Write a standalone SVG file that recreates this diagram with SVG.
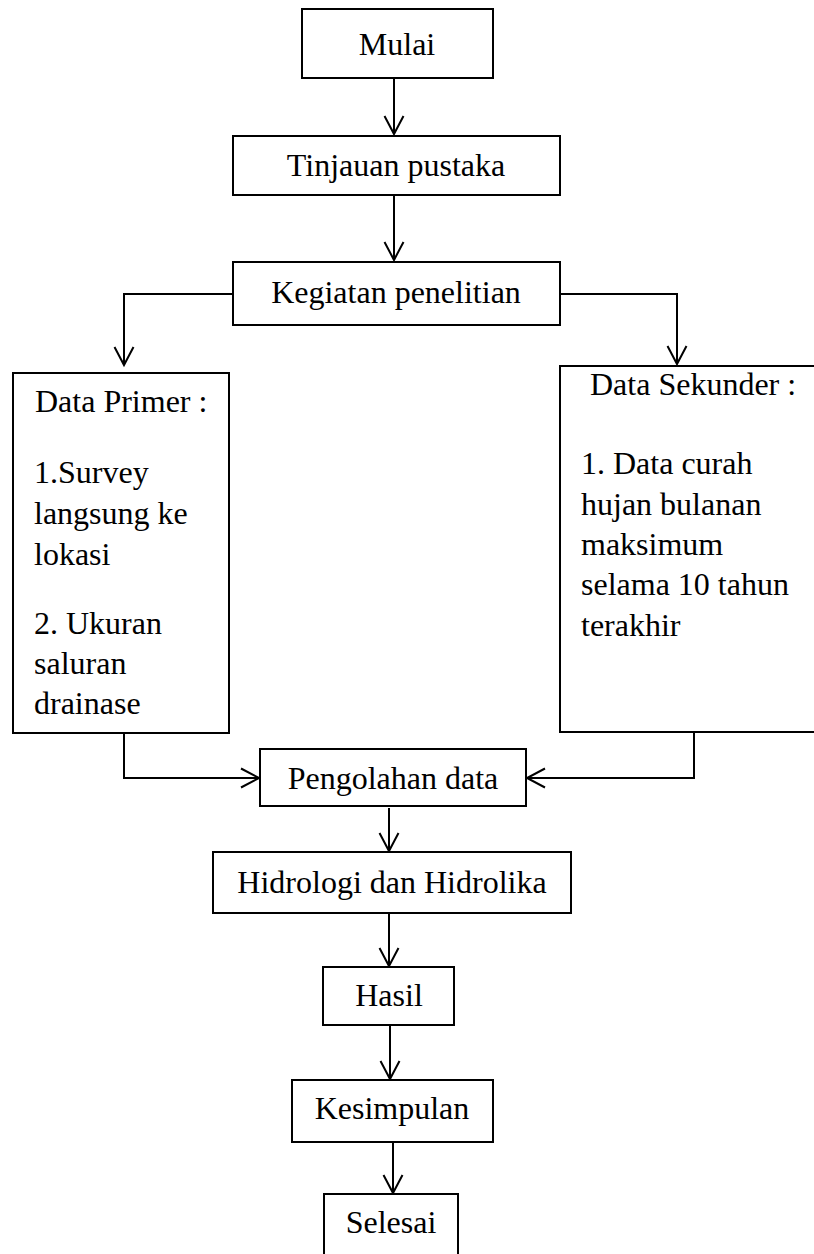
<svg xmlns="http://www.w3.org/2000/svg" width="814" height="1254" viewBox="0 0 814 1254">
<style>
rect.box{fill:#fff;stroke:#000;stroke-width:2}
text{font-family:"Liberation Serif","Times New Roman",serif;font-size:32px;fill:#000}
text.c{text-anchor:middle}
.conn path{fill:none;stroke:#000;stroke-width:2}
</style>
<defs>
<marker id="arr" markerUnits="userSpaceOnUse" markerWidth="24" markerHeight="24" viewBox="-20 -12 24 24" refX="0" refY="0" orient="auto">
<path d="M-18,-9.5 L0,0 L-18,9.5" fill="none" stroke="#000" stroke-width="2"/>
</marker>
</defs>
<rect width="814" height="1254" fill="#fff"/>
<g class="conn">
<path d="M394,78 V134" marker-end="url(#arr)"/>
<path d="M394,195 V260" marker-end="url(#arr)"/>
<path d="M233,294 H124 V365" marker-end="url(#arr)"/>
<path d="M560,294 H677 V364" marker-end="url(#arr)"/>
<path d="M124,733 V778 H259" marker-end="url(#arr)"/>
<path d="M694,732 V778 H527" marker-end="url(#arr)"/>
<path d="M389,808 V851" marker-end="url(#arr)"/>
<path d="M389,913 V966" marker-end="url(#arr)"/>
<path d="M390,1025 V1079" marker-end="url(#arr)"/>
<path d="M393,1142 V1193" marker-end="url(#arr)"/>
</g>
<g id="mulai"><rect class="box" x="302" y="9" width="191" height="69"/><text class="c" x="397" y="55">Mulai</text></g>
<g id="tinjauan"><rect class="box" x="233" y="136" width="327" height="59"/><text class="c" x="396" y="176">Tinjauan pustaka</text></g>
<g id="kegiatan"><rect class="box" x="233" y="262" width="327" height="63"/><text class="c" x="396" y="303">Kegiatan penelitian</text></g>
<g id="primer"><rect class="box" x="13" y="373" width="216" height="360"/>
<text x="35" y="412">Data Primer :</text>
<text x="34" y="483">1.Survey</text>
<text x="34" y="524">langsung ke</text>
<text x="34" y="565">lokasi</text>
<text x="34" y="634">2. Ukuran</text>
<text x="34" y="674">saluran</text>
<text x="34" y="714">drainase</text>
</g>
<g id="sekunder"><rect class="box" x="560" y="366" width="260" height="366"/>
<text x="590" y="395">Data Sekunder :</text>
<text x="581" y="474">1. Data curah</text>
<text x="581" y="515">hujan bulanan</text>
<text x="581" y="555">maksimum</text>
<text x="581" y="595">selama 10 tahun</text>
<text x="581" y="636">terakhir</text>
</g>
<g id="pengolahan"><rect class="box" x="260" y="749" width="266" height="57"/><text class="c" x="393" y="789">Pengolahan data</text></g>
<g id="hidrologi"><rect class="box" x="213" y="852" width="358" height="61"/><text class="c" x="392" y="893">Hidrologi dan Hidrolika</text></g>
<g id="hasil"><rect class="box" x="323" y="967" width="131" height="58"/><text class="c" x="389" y="1006">Hasil</text></g>
<g id="kesimpulan"><rect class="box" x="292" y="1080" width="201" height="62"/><text class="c" x="392" y="1119">Kesimpulan</text></g>
<g id="selesai"><rect class="box" x="324" y="1194" width="134" height="70"/><text class="c" x="391" y="1233">Selesai</text></g>
</svg>
